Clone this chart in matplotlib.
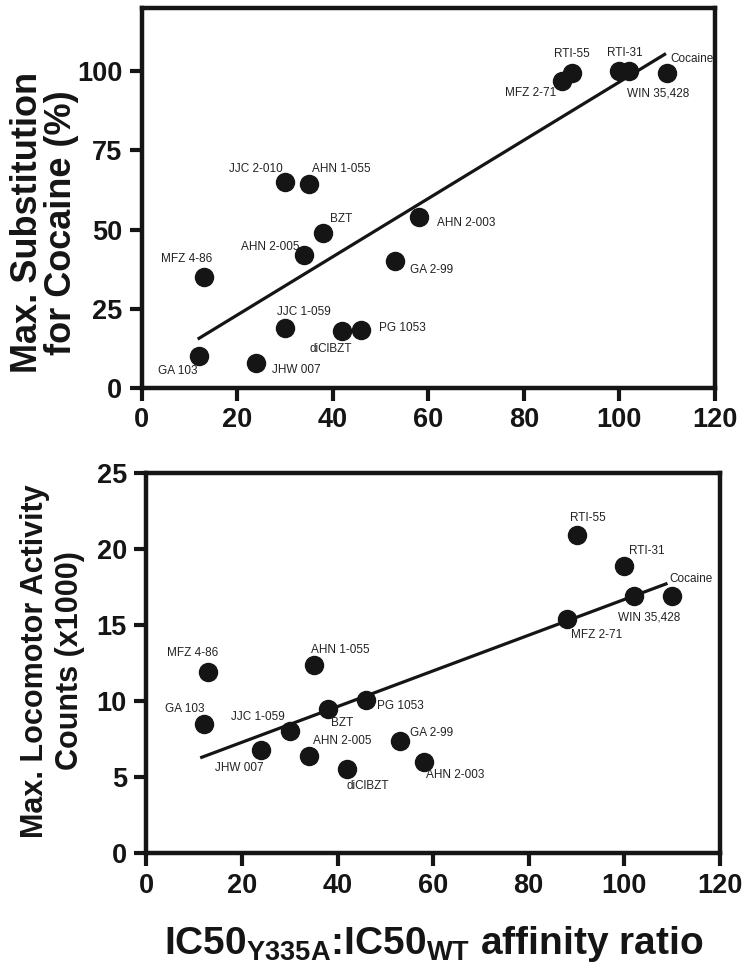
import matplotlib
matplotlib.use("Agg")
import matplotlib.pyplot as plt

# compounds and data
compounds = ["GA 103", "MFZ 4-86", "JHW 007", "JJC 1-059", "JJC 2-010", "AHN 1-055",
             "AHN 2-005", "BZT", "diClBZT", "PG 1053", "GA 2-99", "AHN 2-003",
             "MFZ 2-71", "RTI-55", "RTI-31", "WIN 35,428", "Cocaine"]
affinity_ratio = [12, 13, 24, 30, 30, 35, 34, 38, 42, 46, 53, 58, 88, 90, 100, 102, 110]
max_substitution = [10, 35, 8, 19, 65, 64.5, 42, 49, 18, 18.3, 40, 54, 97, 99.5, 100, 100, 99.5]

loco_compounds = ["GA 103", "MFZ 4-86", "JHW 007", "JJC 1-059", "AHN 1-055", "AHN 2-005",
                  "BZT", "diClBZT", "PG 1053", "GA 2-99", "AHN 2-003", "MFZ 2-71",
                  "RTI-55", "RTI-31", "WIN 35,428", "Cocaine"]
loco_ratio = [12, 13, 24, 30, 35, 34, 38, 42, 46, 53, 58, 88, 90, 100, 102, 110]
max_locomotor = [8.5, 11.9, 6.8, 8.0, 12.4, 6.4, 9.5, 5.5, 10.1, 7.4, 6.0, 15.4, 20.9, 18.9, 16.9, 16.9]

# regression line end points
fit_sub_x = [12, 109.5]
fit_sub_y = [15.7, 105.3]
fit_loco_x = [11.6, 108.7]
fit_loco_y = [6.3, 17.7]

# label offsets in pixels (dx, dy up)
sub_offsets = {"GA 103": (-21, -15), "MFZ 4-86": (-17, 18), "JHW 007": (40, -7),
               "JJC 1-059": (19, 16), "JJC 2-010": (-29, 13), "AHN 1-055": (32, 15),
               "AHN 2-005": (-34, 8), "BZT": (18, 14), "diClBZT": (-12, -18),
               "PG 1053": (41, 2), "GA 2-99": (37, -9), "AHN 2-003": (47, -6),
               "MFZ 2-71": (-31, -12), "RTI-55": (0, 19), "RTI-31": (6, 18),
               "WIN 35,428": (29, -22), "Cocaine": (25, 14)}
loco_offsets = {"GA 103": (-19, 15), "MFZ 4-86": (-16, 19), "JHW 007": (-22, -18),
                "JJC 1-059": (-32, 14), "AHN 1-055": (27, 15), "AHN 2-005": (33, 15),
                "BZT": (14, -14), "diClBZT": (21, -17), "PG 1053": (34, -6),
                "GA 2-99": (32, 8), "AHN 2-003": (32, -13), "MFZ 2-71": (30, -16),
                "RTI-55": (11, 17), "RTI-31": (22, 15), "WIN 35,428": (15, -21),
                "Cocaine": (19, 17)}

font = "Liberation Sans"
plt.rcParams['font.family'] = font
plt.rcParams['mathtext.fontset'] = 'custom'
plt.rcParams['mathtext.rm'] = 'Liberation Sans:bold'
plt.rcParams['mathtext.it'] = 'Liberation Sans:bold'
plt.rcParams['mathtext.bf'] = 'Liberation Sans:bold'

ink = "#151515"

fig = plt.figure(figsize=(7.5, 9.75), dpi=100)
ax1 = fig.add_axes([0.189, 0.602, 0.764, 0.390])
ax2 = fig.add_axes([0.195, 0.125, 0.765, 0.390])


def style_axes(ax, ymax, yticks):
    ax.set_xlim(0, 120)
    ax.set_ylim(0, ymax)
    ax.set_xticks(range(0, 121, 20))
    ax.set_yticks(yticks)
    for s in ax.spines.values():
        s.set_linewidth(3.2)
        s.set_color(ink)
    ax.tick_params(length=9, width=3, color=ink, pad=5, labelsize=19.5)
    for lab in ax.get_xticklabels() + ax.get_yticklabels():
        lab.set_fontweight("bold")
        lab.set_color(ink)


def draw_points(ax, xs, ys, names, offsets):
    ax.plot(xs, ys, "o", color=ink, markersize=13, linestyle="none", zorder=3, clip_on=False)
    for x, y, n in zip(xs, ys, names):
        dx, dy = offsets[n]
        ax.annotate(n, (x, y), xytext=(dx, dy), textcoords="offset pixels",
                    ha="center", va="center", fontsize=8.5,
                    color="#222222", clip_on=True)


style_axes(ax1, 120, [0, 25, 50, 75, 100])
ax1.plot(fit_sub_x, fit_sub_y, color=ink, linewidth=2.3, zorder=2)
draw_points(ax1, affinity_ratio, max_substitution, compounds, sub_offsets)

style_axes(ax2, 25, [0, 5, 10, 15, 20, 25])
ax2.plot(fit_loco_x, fit_loco_y, color=ink, linewidth=2.3, zorder=2)
draw_points(ax2, loco_ratio, max_locomotor, loco_compounds, loco_offsets)

fig.text(0.059, 0.772, "Max. Substitution\nfor Cocaine (%)", rotation=90,
         ha="center", va="center", fontsize=26, fontweight="bold",
         color=ink, linespacing=0.97)
fig.text(0.070, 0.322, "Max. Locomotor Activity\nCounts (x1000)", rotation=90,
         ha="center", va="center", fontsize=22, fontweight="bold",
         color=ink, linespacing=1.25)
fig.text(0.578, 0.032, r"$\mathrm{IC50_{Y335A}}$:$\mathrm{IC50_{WT}}$ affinity ratio",
         ha="center", va="center", fontsize=28, fontweight="bold", color=ink)

fig.savefig("out.png", dpi=100)
